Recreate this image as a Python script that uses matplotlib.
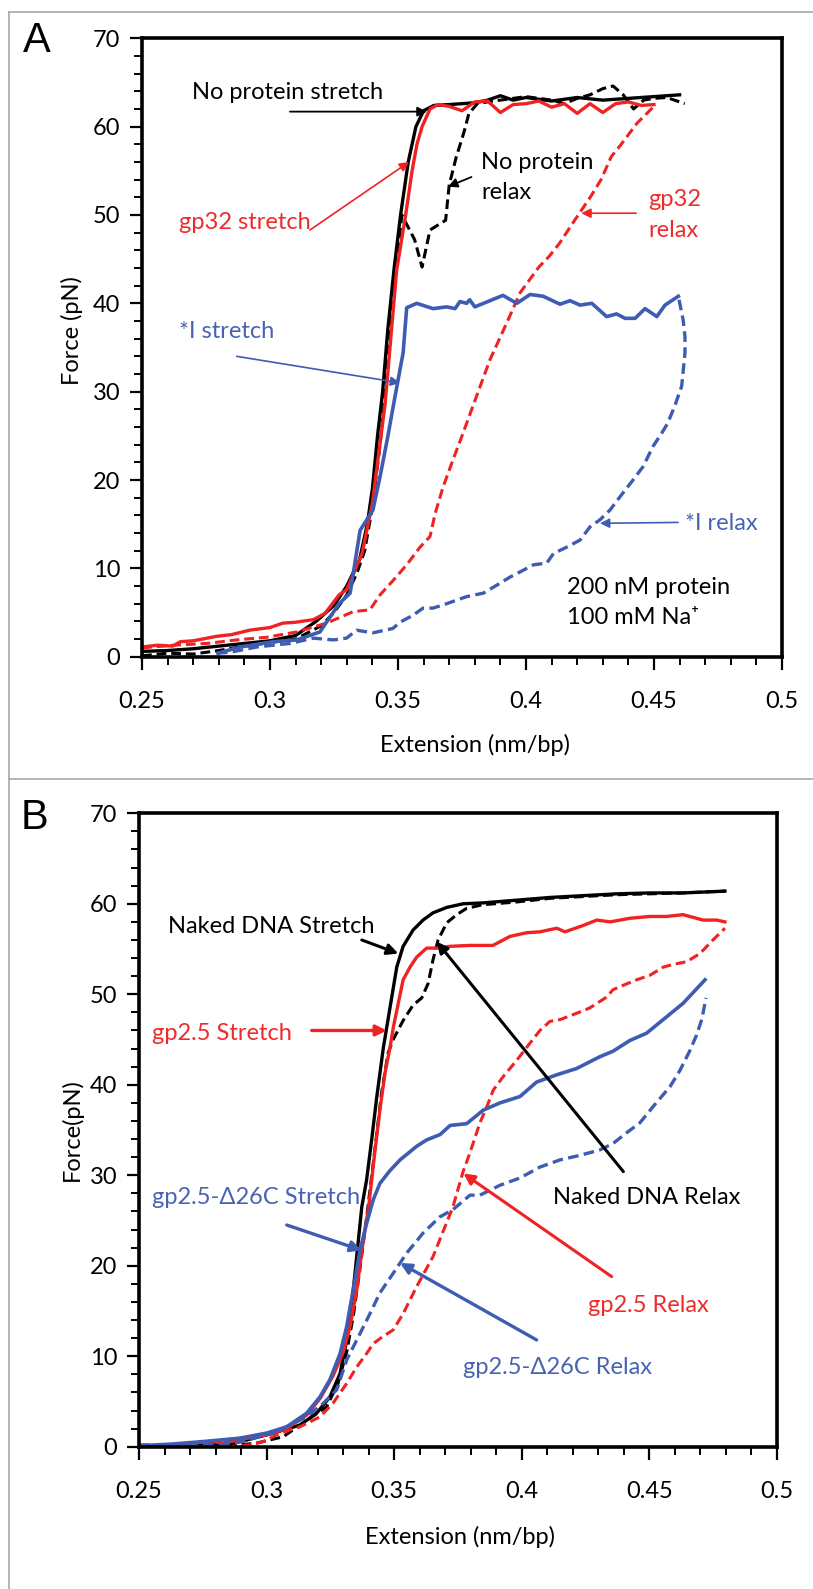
import numpy as np
import matplotlib
matplotlib.use("Agg")
import matplotlib.pyplot as plt
from matplotlib.lines import Line2D
from matplotlib.ticker import MultipleLocator, FixedLocator, FixedFormatter

plt.rcParams['font.family'] = ['Lato', 'DejaVu Sans']
plt.rcParams['font.size'] = 17

# ---------------- panel A data (x in nm/bp, force in pN) ----------------
a_np_st_x = [0.250, 0.260, 0.270, 0.280, 0.290, 0.300, 0.310, 0.318, 0.325, 0.330, 0.335, 0.338,
             0.340, 0.342, 0.344, 0.346, 0.3485, 0.351, 0.354, 0.357, 0.360, 0.364, 0.370, 0.380,
             0.385, 0.390, 0.395, 0.400, 0.410, 0.420, 0.430, 0.440, 0.450, 0.460]
a_np_st_y = [0.6, 0.7, 0.9, 1.2, 1.5, 1.8, 2.4, 4.0, 5.8, 8.0, 11.0, 15.0,
             19.0, 25.0, 30.0, 37.0, 44.0, 50.0, 56.0, 60.0, 61.8, 62.4, 62.5, 62.7,
             63.0, 63.5, 63.0, 63.3, 62.9, 63.3, 63.0, 63.2, 63.4, 63.6]

a_np_rx_x = [0.250, 0.260, 0.270, 0.280, 0.290, 0.300, 0.310, 0.320, 0.325, 0.330, 0.334, 0.337,
             0.340, 0.343, 0.345, 0.347, 0.349, 0.3515, 0.3565, 0.3594, 0.3625, 0.3686, 0.370,
             0.3727, 0.3757, 0.3777, 0.381, 0.385, 0.390, 0.400, 0.410, 0.415, 0.420, 0.425,
             0.430, 0.434, 0.438, 0.442, 0.446, 0.450, 0.455, 0.460, 0.462]
a_np_rx_y = [0.1, 0.4, 0.3, 0.7, 1.2, 1.6, 2.0, 3.5, 5.0, 7.0, 9.5, 12.0,
             17.0, 24.0, 30.0, 37.0, 43.0, 50.0, 47.2, 44.1, 48.3, 49.4, 53.4,
             56.5, 59.3, 61.5, 62.6, 62.8, 63.0, 63.4, 63.0, 62.6, 63.2, 63.6,
             64.3, 64.6, 63.6, 62.0, 63.0, 63.2, 63.3, 62.8, 62.6]

a_gp_st_x = [0.250, 0.256, 0.262, 0.265, 0.270, 0.279, 0.285, 0.292, 0.300, 0.305, 0.310, 0.317,
             0.3215, 0.327, 0.330, 0.336, 0.340, 0.345, 0.3495, 0.353, 0.3555, 0.3574, 0.3594,
             0.3625, 0.3656, 0.370, 0.375, 0.380, 0.385, 0.390, 0.395, 0.400, 0.405, 0.410,
             0.415, 0.420, 0.425, 0.430, 0.435, 0.440, 0.445, 0.450]
a_gp_st_y = [1.1, 1.3, 1.2, 1.7, 1.8, 2.3, 2.5, 3.0, 3.3, 3.8, 3.9, 4.2,
             4.9, 7.0, 7.6, 11.7, 17.4, 28.7, 43.8, 50.0, 55.0, 58.0, 60.0,
             62.0, 62.5, 62.3, 61.8, 62.8, 62.9, 61.6, 62.5, 62.6, 62.9, 62.2,
             62.6, 61.5, 62.6, 61.6, 62.6, 62.8, 62.4, 62.5]

a_gp_rx_x = [0.250, 0.2621, 0.2753, 0.287, 0.2987, 0.3104, 0.3221, 0.3325, 0.339, 0.343, 0.348,
             0.3534, 0.3586, 0.3625, 0.3645, 0.3676, 0.3715, 0.3754, 0.3807, 0.3859, 0.3925,
             0.3977, 0.405, 0.409, 0.4131, 0.419, 0.4253, 0.4293, 0.4333, 0.4364, 0.4434,
             0.4486, 0.450]
a_gp_rx_y = [1.0, 1.3, 1.5, 1.9, 2.2, 2.8, 3.8, 5.1, 5.3, 7.0, 8.6,
             10.4, 12.4, 13.6, 16.2, 19.2, 22.3, 25.3, 29.5, 33.6, 37.8,
             41.2, 44.1, 45.3, 46.8, 49.4, 52.1, 54.0, 56.6, 57.7, 60.4,
             61.9, 62.3]

a_i_st_x = [0.2797, 0.2883, 0.3012, 0.3104, 0.3195, 0.327, 0.3313, 0.3352, 0.3402, 0.343, 0.346,
            0.3488, 0.352, 0.3534, 0.3573, 0.3637, 0.369, 0.3723, 0.3742, 0.3768, 0.378, 0.380,
            0.391, 0.3964, 0.4016, 0.4067, 0.4133, 0.4172, 0.4211, 0.4257, 0.4315, 0.4354,
            0.4387, 0.4426, 0.4465, 0.4511, 0.4543, 0.4595]
a_i_st_y = [0.4, 1.1, 1.7, 1.9, 2.8, 6.0, 7.2, 14.3, 16.6, 20.4, 24.9,
            29.4, 34.4, 39.5, 40.0, 39.4, 39.6, 39.4, 40.2, 40.0, 40.4, 39.6,
            40.9, 40.0, 41.0, 40.8, 39.9, 40.3, 39.8, 40.0, 38.5, 38.8,
            38.3, 38.3, 39.4, 38.5, 39.8, 40.8]

a_i_rx_x = [0.2792, 0.2844, 0.2948, 0.3078, 0.3169, 0.3247, 0.3299, 0.3338, 0.3402, 0.348, 0.3508,
            0.3559, 0.3598, 0.3637, 0.369, 0.3768, 0.3834, 0.3886, 0.3937, 0.399, 0.4029, 0.4081,
            0.4108, 0.4159, 0.4211, 0.425, 0.4289, 0.4328, 0.4367, 0.4418, 0.4457, 0.4496, 0.453,
            0.4553, 0.458, 0.4608, 0.4621, 0.4621, 0.4614, 0.4595]
a_i_rx_y = [0.4, 0.5, 1.1, 1.5, 2.1, 1.9, 2.1, 3.0, 2.7, 3.2, 3.9,
            4.7, 5.5, 5.5, 6.0, 6.8, 7.2, 8.1, 9.0, 9.8, 10.4, 10.6,
            11.7, 12.4, 13.2, 14.7, 15.5, 16.6, 18.1, 20.0, 21.5, 23.8, 25.3,
            26.4, 28.3, 30.6, 34.4, 36.2, 38.1, 40.8]

# ---------------- panel B data ----------------
b_nk_st_x = [0.250, 0.2778, 0.2896, 0.3026, 0.3131, 0.3196, 0.3248, 0.3288, 0.3314, 0.3333, 0.3353,
             0.3373, 0.3392, 0.3412, 0.3431, 0.3457, 0.3484, 0.351, 0.3535, 0.3574, 0.3613, 0.3652,
             0.3706, 0.377, 0.3848, 0.398, 0.411, 0.424, 0.4372, 0.4502, 0.4632, 0.4796]
b_nk_st_y = [0.0, 0.2, 0.55, 1.5, 2.4, 3.7, 5.5, 8.1, 11.8, 15.5, 21.0,
             26.5, 29.5, 34.0, 38.5, 44.0, 48.6, 53.0, 55.3, 57.1, 58.2, 59.0,
             59.6, 60.0, 60.1, 60.4, 60.7, 60.9, 61.1, 61.2, 61.2, 61.4]

b_nk_rx_x = [0.250, 0.2896, 0.2961, 0.3065, 0.3157, 0.3235, 0.328, 0.3314, 0.3340, 0.3365, 0.3395,
             0.3425, 0.3450, 0.3476, 0.3496, 0.3535, 0.3574, 0.3608, 0.3633, 0.3652, 0.3672,
             0.3706, 0.3745, 0.3784, 0.3848, 0.398, 0.411, 0.424, 0.4372, 0.4502, 0.4632, 0.4796]
b_nk_rx_y = [0.0, 0.2, 0.4, 1.1, 2.9, 4.4, 7.0, 10.5, 14.5, 19.5, 26.0,
             33.0, 39.0, 43.5, 45.0, 47.1, 48.8, 49.6, 51.2, 53.8, 56.0,
             57.9, 58.8, 59.5, 59.9, 60.2, 60.6, 60.8, 61.0, 61.1, 61.2, 61.4]

b_gp_st_x = [0.250, 0.265, 0.278, 0.283, 0.290, 0.300, 0.3079, 0.3157, 0.3209, 0.3260, 0.3301,
             0.3327, 0.3353, 0.3379, 0.340, 0.3425, 0.3444, 0.3464, 0.3484, 0.3497, 0.3516,
             0.3535, 0.3562, 0.3588, 0.3627, 0.3667, 0.3719, 0.3797, 0.3887, 0.3954, 0.4019,
             0.4071, 0.4137, 0.4169, 0.424, 0.4294, 0.4346, 0.4424, 0.4502, 0.4568, 0.4632,
             0.471, 0.4764, 0.4796]
b_gp_st_y = [0.0, 0.2, 0.6, 0.4, 0.8, 1.3, 2.0, 3.5, 5.3, 7.8, 10.5,
             13.3, 17.3, 22.8, 26.5, 32.8, 37.2, 41.3, 44.2, 46.4, 49.0,
             51.6, 53.0, 54.1, 55.1, 55.1, 55.3, 55.4, 55.4, 56.4, 56.8,
             56.9, 57.3, 56.9, 57.6, 58.2, 58.0, 58.4, 58.6, 58.6, 58.8,
             58.2, 58.2, 58.0]

b_gp_rx_x = [0.250, 0.285, 0.2935, 0.2986, 0.3053, 0.3131, 0.3209, 0.326, 0.3314, 0.3353, 0.3392,
             0.3418, 0.3457, 0.3496, 0.3535, 0.3588, 0.3652, 0.373, 0.377, 0.3797, 0.3836,
             0.3862, 0.3888, 0.3927, 0.398, 0.4032, 0.4071, 0.411, 0.415, 0.4215, 0.4267,
             0.4333, 0.4357, 0.4398, 0.445, 0.4502, 0.4554, 0.4593, 0.4646, 0.4698, 0.4749, 0.4796]
b_gp_rx_y = [0.0, 0.0, 0.2, 0.55, 1.5, 2.2, 3.3, 4.8, 7.0, 8.8, 10.3,
             11.4, 12.2, 12.9, 14.7, 17.7, 21.0, 26.5, 30.4, 32.5, 35.8,
             37.5, 39.4, 40.9, 42.7, 44.6, 46.0, 47.0, 47.2, 47.9, 48.5,
             49.7, 50.5, 51.0, 51.6, 52.1, 53.0, 53.3, 53.6, 54.5, 56.0, 57.3]

b_d_st_x = [0.250, 0.2633, 0.2765, 0.2896, 0.300, 0.3079, 0.3157, 0.3209, 0.3248, 0.3288, 0.3314,
            0.3339, 0.3366, 0.3392, 0.3418, 0.3444, 0.3483, 0.3523, 0.3588, 0.3627, 0.3680,
            0.3719, 0.3784, 0.3849, 0.3915, 0.3993, 0.4058, 0.4137, 0.4215, 0.4306, 0.4357,
            0.4424, 0.4489, 0.4554, 0.4632, 0.4718]
b_d_st_y = [0.1, 0.3, 0.6, 0.95, 1.5, 2.2, 3.7, 5.5, 7.4, 10.3, 13.3,
            17.3, 21.7, 24.7, 27.3, 29.1, 30.5, 31.7, 33.2, 33.9, 34.5,
            35.5, 35.7, 37.2, 38.0, 38.7, 40.3, 41.1, 41.8, 43.1, 43.7,
            44.9, 45.7, 47.2, 49.0, 51.6]

b_d_rx_x = [0.250, 0.2633, 0.2817, 0.2896, 0.3026, 0.3157, 0.3222, 0.3275, 0.3314, 0.3366, 0.3405,
            0.3444, 0.3497, 0.3549, 0.3613, 0.3679, 0.373, 0.3797, 0.3836, 0.3915, 0.3993,
            0.4071, 0.415, 0.4228, 0.4306, 0.4357, 0.4411, 0.4463, 0.4515, 0.4581, 0.462,
            0.4659, 0.4685, 0.4705, 0.4722]
b_d_rx_y = [0.2, 0.2, 0.2, 0.55, 1.5, 3.3, 4.8, 6.3, 9.6, 12.5, 14.7,
            17.0, 19.2, 21.4, 23.6, 25.4, 26.2, 27.8, 27.8, 28.9, 29.7,
            30.9, 31.7, 32.2, 32.8, 33.5, 34.7, 35.8, 37.6, 39.8, 41.6,
            43.8, 45.5, 47.2, 49.6]

x_ticks = [0.25, 0.3, 0.35, 0.4, 0.45, 0.5]
x_tick_labels = ['0.25', '0.3', '0.35', '0.4', '0.45', '0.5']
y_ticks = [0, 10, 20, 30, 40, 50, 60, 70]

BLACK = 'black'
RED = '#f02222'
BLUE = '#3e5db2'
RED_TXT = '#ee2b2b'
BLUE_TXT = '#4863b4'
DASH = (3.2, 1.6)

W, H = 813, 1589
fig = plt.figure(figsize=(W / 100, H / 100), dpi=100)


def px_axes(left, right, top, bottom):
    return fig.add_axes([left / W, 1 - bottom / H, (right - left) / W, (bottom - top) / H])


def style(ax, ylabel, ylab_xy, xlab_xy):
    ax.set_xlim(0.25, 0.5)
    ax.set_ylim(0, 70)
    ax.xaxis.set_major_locator(FixedLocator(x_ticks))
    ax.xaxis.set_major_formatter(FixedFormatter(x_tick_labels))
    ax.xaxis.set_minor_locator(MultipleLocator(0.01))
    ax.yaxis.set_major_locator(FixedLocator(y_ticks))
    ax.yaxis.set_minor_locator(MultipleLocator(2))
    for s in ax.spines.values():
        s.set_linewidth(2.6)
    ax.tick_params(which='major', direction='out', length=9, width=1.6, labelsize=17)
    ax.tick_params(which='minor', direction='out', length=6, width=1.4)
    ax.tick_params(axis='x', which='major', pad=15.5)
    ax.tick_params(axis='y', which='major', pad=6.5)
    ax.set_xlabel('Extension (nm/bp)', fontsize=17)
    ax.set_ylabel(ylabel, fontsize=17)
    ax.xaxis.set_label_coords(*xlab_xy)
    ax.yaxis.set_label_coords(*ylab_xy)
    ax.xaxis.label.set_va('center')
    ax.yaxis.label.set_va('center')


def arrow(ax, start, tip, color, lw, ms):
    ax.annotate('', xy=tip, xytext=start,
                arrowprops=dict(arrowstyle='-|>', color=color, lw=lw,
                                mutation_scale=ms, shrinkA=0, shrinkB=0))


# ====================== PANEL A ======================
axA = px_axes(142, 782, 38.3, 656.7)
axA.plot(a_np_st_x, a_np_st_y, color=BLACK, lw=2.4)
axA.plot(a_np_rx_x, a_np_rx_y, color=BLACK, lw=2.2, dashes=DASH)
axA.plot(a_gp_rx_x, a_gp_rx_y, color=RED, lw=2.2, dashes=DASH)
axA.plot(a_gp_st_x, a_gp_st_y, color=RED, lw=2.4)
axA.plot(a_i_rx_x, a_i_rx_y, color=BLUE, lw=2.4, dashes=DASH)
axA.plot(a_i_st_x, a_i_st_y, color=BLUE, lw=2.6)
style(axA, 'Force (pN)', (-0.109, 0.528), (0.52, -0.143))

axA.text(0.3068, 63.9, 'No protein stretch', ha='center', va='center', color=BLACK)
arrow(axA, (0.3078, 61.7), (0.3613, 61.7), BLACK, 1.3, 14)
axA.text(0.3824, 55.9, 'No protein', ha='left', va='center', color=BLACK)
axA.text(0.3824, 52.5, 'relax', ha='left', va='center', color=BLACK)
arrow(axA, (0.3787, 54.3), (0.3695, 53.2), BLACK, 1.3, 14)
axA.text(0.2902, 49.1, 'gp32 stretch', ha='center', va='center', color=RED_TXT)
arrow(axA, (0.3156, 48.3), (0.3543, 56.0), RED, 1.2, 14)
axA.text(0.4477, 51.7, 'gp32', ha='left', va='center', color=RED_TXT)
axA.text(0.4477, 48.3, 'relax', ha='left', va='center', color=RED_TXT)
arrow(axA, (0.443, 50.2), (0.4216, 50.2), RED, 1.2, 14)
axA.text(0.2645, 36.8, '*I stretch', ha='left', va='center', color=BLUE_TXT)
arrow(axA, (0.287, 34.0), (0.3508, 31.0), BLUE, 1.2, 14)
axA.text(0.4621, 15.1, '*I relax', ha='left', va='center', color=BLUE_TXT)
arrow(axA, (0.4594, 15.2), (0.4289, 15.1), BLUE, 1.2, 14)
axA.text(0.416, 7.8, '200 nM protein', ha='left', va='center', color=BLACK)
axA.text(0.416, 4.4, '100 mM Na\u207a', ha='left', va='center', color=BLACK)

# ====================== PANEL B ======================
axB = px_axes(139, 777, 813.3, 1446.7)
axB.plot(b_nk_st_x, b_nk_st_y, color=BLACK, lw=2.4)
axB.plot(b_nk_rx_x, b_nk_rx_y, color=BLACK, lw=2.2, dashes=DASH)
axB.plot(b_gp_rx_x, b_gp_rx_y, color=RED, lw=2.2, dashes=DASH)
axB.plot(b_gp_st_x, b_gp_st_y, color=RED, lw=2.4)
axB.plot(b_d_rx_x, b_d_rx_y, color=BLUE, lw=2.4, dashes=DASH)
axB.plot(b_d_st_x, b_d_st_y, color=BLUE, lw=2.6)
style(axB, 'Force(pN)', (-0.105, 0.5), (0.503, -0.1426))

axB.text(0.302, 57.5, 'Naked DNA Stretch', ha='center', va='center', color=BLACK)
arrow(axB, (0.3373, 56.0), (0.3516, 54.5), BLACK, 2.2, 16)
axB.text(0.2825, 45.7, 'gp2.5 Stretch', ha='center', va='center', color=RED_TXT)
arrow(axB, (0.3177, 46.0), (0.3471, 46.0), RED, 2.4, 16)
arrow(axB, (0.4398, 30.4), (0.3667, 55.8), BLACK, 2.2, 16)
axB.text(0.449, 27.5, 'Naked DNA Relax', ha='center', va='center', color=BLACK)
arrow(axB, (0.4352, 18.8), (0.3771, 30.2), RED, 2.2, 16)
axB.text(0.4496, 15.6, 'gp2.5 Relax', ha='center', va='center', color=RED_TXT)
axB.text(0.2957, 27.5, 'gp2.5-\u039426C Stretch', ha='center', va='center', color=BLUE_TXT)
arrow(axB, (0.3079, 24.5), (0.3373, 21.7), BLUE, 2.4, 16)
arrow(axB, (0.4058, 11.8), (0.3523, 20.3), BLUE, 2.4, 16)
axB.text(0.414, 8.8, 'gp2.5-\u039426C Relax', ha='center', va='center', color=BLUE_TXT)

# panel letters and frames
fig.text(23 / W, 1 - 41.5 / H, 'A', fontsize=30, family=['Liberation Sans', 'DejaVu Sans'],
         ha='left', va='center')
fig.text(21 / W, 1 - 818 / H, 'B', fontsize=30, family=['Liberation Sans', 'DejaVu Sans'],
         ha='left', va='center')
frame = '#a8a8a8'
for (x0, y0, x1, y1) in [(9, 12, 813, 12), (9, 779, 813, 779), (9, 12, 9, 1589)]:
    fig.add_artist(Line2D([x0 / W, x1 / W], [1 - y0 / H, 1 - y1 / H],
                          transform=fig.transFigure, color=frame, lw=1.2))

fig.savefig('out.png', dpi=100)
